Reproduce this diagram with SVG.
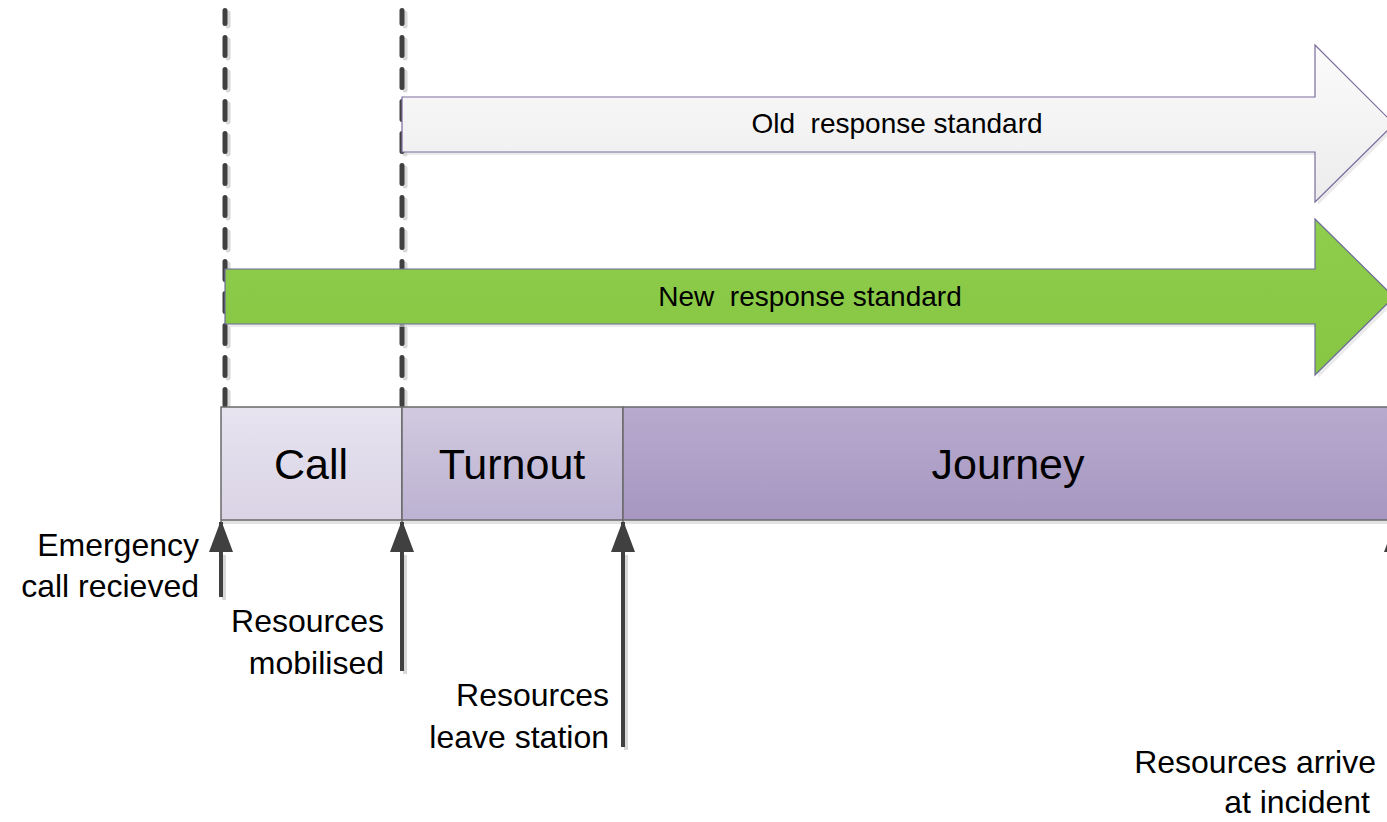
<svg xmlns="http://www.w3.org/2000/svg" width="1387" height="822" viewBox="0 0 1387 822">
<defs>
<linearGradient id="gOld" x1="0" y1="0" x2="0" y2="1"><stop offset="0" stop-color="#fbfbfb"/><stop offset="1" stop-color="#ececec"/></linearGradient>
<linearGradient id="gNew" x1="0" y1="0" x2="0" y2="1"><stop offset="0" stop-color="#8fcd4c"/><stop offset="1" stop-color="#86c642"/></linearGradient>
<linearGradient id="gCall" x1="0" y1="0" x2="0" y2="1"><stop offset="0" stop-color="#e7e3ef"/><stop offset="1" stop-color="#dad4e6"/></linearGradient>
<linearGradient id="gTurn" x1="0" y1="0" x2="0" y2="1"><stop offset="0" stop-color="#d1cadf"/><stop offset="1" stop-color="#bcb2d2"/></linearGradient>
<linearGradient id="gJour" x1="0" y1="0" x2="0" y2="1"><stop offset="0" stop-color="#b7aace"/><stop offset="1" stop-color="#a797c1"/></linearGradient>
<marker id="ah" viewBox="0 0 32 24" refX="30" refY="12" markerWidth="32" markerHeight="24" markerUnits="userSpaceOnUse" orient="auto">
<path d="M0,0 L32,12 L0,24 Z" fill="#404040"/>
</marker>
</defs>
<style>
.dash{fill:none;stroke:#404040;stroke-width:5;stroke-linecap:round;stroke-dasharray:18 14;stroke-dashoffset:5}
.dashsh{fill:none;stroke:#d8d8d8;stroke-width:5;stroke-linecap:round;stroke-dasharray:18 14;stroke-dashoffset:5}
.up{fill:none;stroke:#404040;stroke-width:4}
.upsh{fill:none;stroke:#d8d8d8;stroke-width:4}
.box{stroke:#6a6a6a;stroke-width:1.5}
.big{font-family:"Liberation Sans",Arial,sans-serif;font-size:43px;fill:#000;text-anchor:middle}
.lbl{font-family:"Liberation Sans",Arial,sans-serif;font-size:32px;fill:#000;text-anchor:end}
.arr{font-family:"Liberation Sans",Arial,sans-serif;font-size:28px;fill:#000;text-anchor:middle;white-space:pre}
</style>

<g id="guides">
<path class="dashsh" d="M228,13 V408"/>
<path class="dashsh" d="M405,13 V408"/>
<path class="dash" d="M225,10.5 V405"/>
<path class="dash" d="M402,10.5 V405"/>
</g>

<g id="old-standard">
<path d="M405,100 H1318 V48 L1397,127 L1318,205 V155 H405 Z" fill="#dddddd" opacity="0.6"/>
<path d="M402,97 H1315 V45 L1394,124 L1315,202 V152 H402 Z" fill="url(#gOld)" stroke="#7b6c9c" stroke-width="1.2"/>
<text class="arr" x="897" y="133" xml:space="preserve">Old  response standard</text>
</g>

<g id="new-standard">
<path d="M228,272 H1318 V222 L1397,300 L1318,378 V327 H228 Z" fill="#dddddd" opacity="0.6"/>
<path d="M225,269 H1315 V219 L1394,297 L1315,375 V324 H225 Z" fill="url(#gNew)" stroke="#6c6a9a" stroke-width="1.2"/>
<text class="arr" x="810" y="306" xml:space="preserve">New  response standard</text>
</g>

<g id="boxes-shadow">
<rect x="221" y="520" width="1170" height="4" fill="#e2e2e2"/>
</g>
<g id="call">
<rect class="box" x="221" y="407" width="181" height="113" fill="url(#gCall)"/>
<text class="big" x="311" y="479">Call</text>
</g>
<g id="turnout">
<rect class="box" x="402" y="407" width="221" height="113" fill="url(#gTurn)"/>
<text class="big" x="512" y="479">Turnout</text>
</g>
<g id="journey">
<rect class="box" x="623" y="407" width="780" height="113" fill="url(#gJour)"/>
<text class="big" x="1008" y="479">Journey</text>
</g>

<g id="connectors">
<path class="upsh" d="M224,600 V555"/>
<path class="upsh" d="M405,674 V555"/>
<path class="upsh" d="M626,750 V555"/>
<path class="up" d="M221,597 V522" marker-end="url(#ah)"/>
<path class="up" d="M402,671 V522" marker-end="url(#ah)"/>
<path class="up" d="M623,747 V522" marker-end="url(#ah)"/>
<path class="up" d="M1396,600 V522" marker-end="url(#ah)"/>
</g>

<g id="label-call">
<text class="lbl" x="199" y="556">Emergency</text>
<text class="lbl" x="199" y="597">call recieved</text>
</g>
<g id="label-mobilised">
<text class="lbl" x="384" y="632">Resources</text>
<text class="lbl" x="384" y="674">mobilised</text>
</g>
<g id="label-leave">
<text class="lbl" x="609" y="706">Resources</text>
<text class="lbl" x="609" y="748">leave station</text>
</g>
<g id="label-arrive">
<text class="lbl" x="1376" y="773">Resources arrive</text>
<text class="lbl" x="1370" y="813">at incident</text>
</g>
</svg>
